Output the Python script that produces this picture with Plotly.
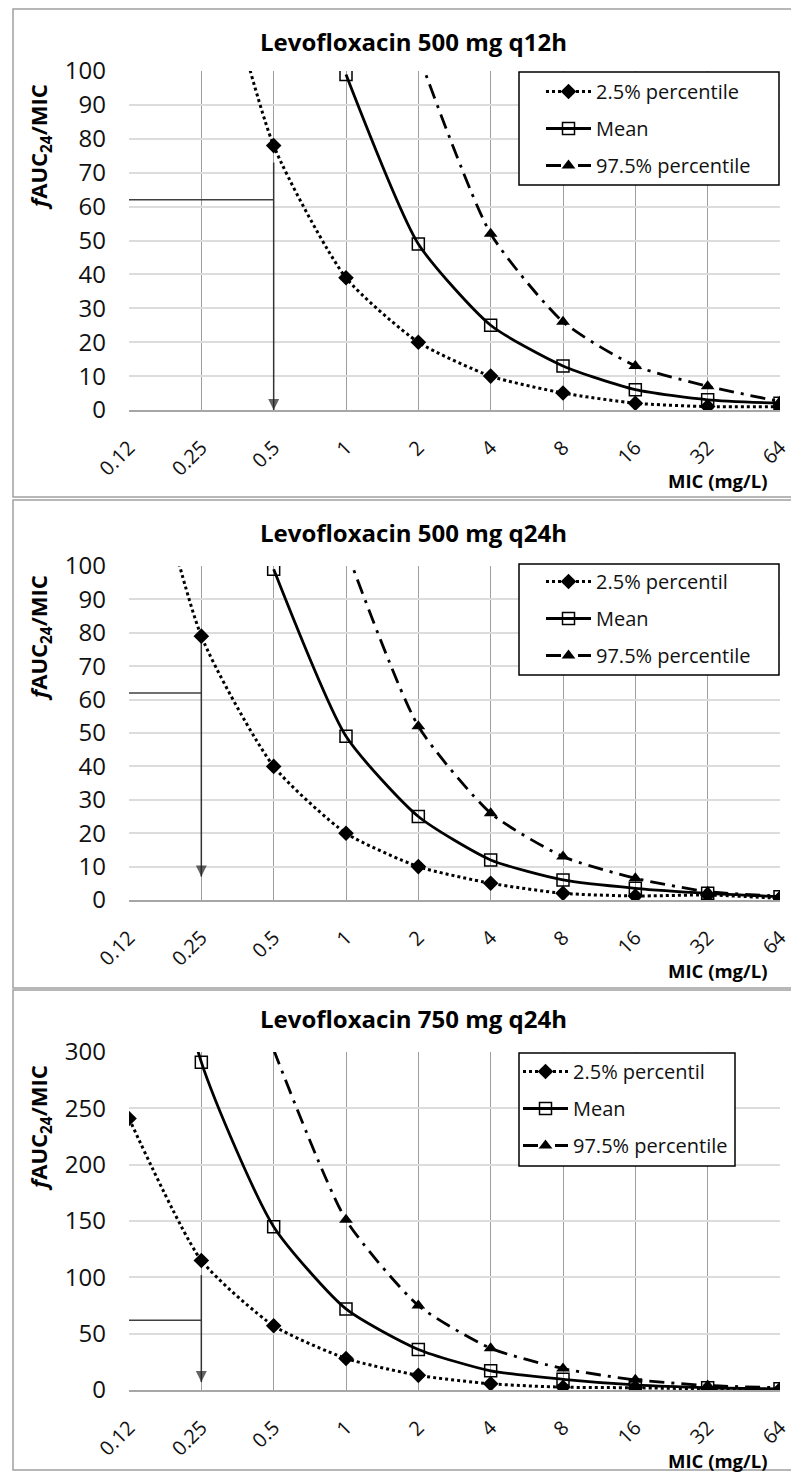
import plotly.graph_objects as go

# MIC categories on the x axis
MIC = ["0.12", "0.25", "0.5", "1", "2", "4", "8", "16", "32", "64"]

# Levofloxacin 500 mg q12h
q12_low = [None, 155, 78, 39, 20, 10, 5, 2, 1, 1]
q12_mean = [None, None, None, 99, 49, 25, 13, 6, 3, 2]
q12_high = [None, None, None, None, 105, 52, 26, 13, 7, 2.5]

# Levofloxacin 500 mg q24h
q24_low = [160, 79, 40, 20, 10, 5, 2, 1.2, 1.5, 0.5]
q24_mean = [None, None, 99, 49, 25, 12, 6, 3.5, 2, 1]
q24_high = [None, None, None, 105, 52, 26, 13, 6.5, 2.5, 1.2]

# Levofloxacin 750 mg q24h
h750_low = [241, 115, 57, 28, 13, 5.5, 2.5, 2, 1, 0.5]
h750_mean = [580, 291, 145, 72, 36, 17, 9.5, 4.5, 2, 1]
h750_high = [None, None, 302, 151, 75, 37, 19, 9, 4, 2]

TITLES = ["Levofloxacin 500 mg q12h", "Levofloxacin 500 mg q24h", "Levofloxacin 750 mg q24h"]
LEGEND_NAMES = [
    ["2.5% percentile", "Mean", "97.5% percentile"],
    ["2.5% percentil", "Mean", "97.5% percentile"],
    ["2.5% percentil", "Mean", "97.5% percentile"],
]
Y_MAX = [100, 100, 300]
Y_DTICK = [10, 10, 50]

TARGET = 62
TARGET_MIC = ["0.5", "0.25", "0.25"]
ARROW_TOP = [73, 79, 102]
ARROW_TIP = [0, 7, 7]

SERIES = [
    (q12_low, q12_mean, q12_high),
    (q24_low, q24_mean, q24_high),
    (h750_low, h750_mean, h750_high),
]

# the page body has an 8px margin, so the figure is a bit smaller than the window
PAGE_MARGIN = 8
W, H = 791, 1464
FONT = "Open Sans"

# page-pixel layout of each panel: (frame top, frame bottom, plot top, plot bottom, title y, ytitle y)
PANELS = [
    (9, 497, 71, 410, 42, 147),
    (500, 988, 566, 900, 532, 638),
    (990, 1470, 1052, 1390, 1018, 1128),
]
LEGEND_BOX = [(519, 779, 72, 185), (519, 779, 564, 675), (519, 735, 1053, 1166)]
LEGEND_TEXT_X = [596, 596, 573]
LEGEND_FIRST_Y = [92, 582, 1072]
PLOT_X = (129, 780)


def px_x(v):
    return (v - PAGE_MARGIN) / W


def px_y(v):
    return 1 - (v - PAGE_MARGIN) / H


fig = go.Figure()
shapes = []
annotations = []

styles = [
    dict(line=dict(color="black", width=3, dash="dot"),
         marker=dict(symbol="diamond", size=12, color="black")),
    dict(line=dict(color="black", width=2.8),
         marker=dict(symbol="square-open", size=12, color="black", line=dict(width=1.5))),
    dict(line=dict(color="black", width=2.8, dash="15px,7px,3px,7px"),
         marker=dict(symbol="triangle-up", size=12, color="black")),
]

for i, (series, panel) in enumerate(zip(SERIES, PANELS)):
    n = "" if i == 0 else str(i + 1)
    ftop, fbot, ptop, pbot, ty, yty = panel
    legend_id = "legend" + n

    # target line across to the MIC, then an arrow down from it
    fig.add_trace(go.Scatter(
        x=[MIC[0], TARGET_MIC[i]], y=[TARGET, TARGET], mode="lines",
        line=dict(color="#404040", width=1.5), xaxis="x" + n, yaxis="y" + n,
        showlegend=False, hoverinfo="skip",
    ))
    fig.add_trace(go.Scatter(
        x=[TARGET_MIC[i], TARGET_MIC[i]], y=[ARROW_TOP[i], ARROW_TIP[i]],
        mode="lines+markers", line=dict(color="#333", width=1.5),
        marker=dict(symbol=["circle", "arrow-down"], size=[0, 11], color="#222",
                    line=dict(width=0)),
        xaxis="x" + n, yaxis="y" + n, showlegend=False, hoverinfo="skip",
        cliponaxis=False,
    ))

    for j, (vals, st) in enumerate(zip(series, styles)):
        fig.add_trace(go.Scatter(
            x=MIC, y=vals, mode="lines+markers", name=LEGEND_NAMES[i][j],
            line=dict(shape="spline", smoothing=0.6, **st["line"]),
            marker=st["marker"], xaxis="x" + n, yaxis="y" + n,
            legend=legend_id, legendgroup=f"g{i}{j}", cliponaxis=True,
        ))

    fig.layout["xaxis" + n] = dict(
        type="category", categoryorder="array", categoryarray=MIC,
        range=[0, 9], domain=[px_x(PLOT_X[0]), px_x(PLOT_X[1])],
        anchor="y" + n, showgrid=True, gridcolor="#9e9e9e", gridwidth=1.2,
        showline=True, linecolor="#a6a6a6", linewidth=2, tickangle=-45,
        ticks="", ticklabelstandoff=16, automargin=False,
        tickfont=dict(family=FONT, size=20, color="#111"), zeroline=False,
    )
    fig.layout["yaxis" + n] = dict(
        range=[0, Y_MAX[i]], dtick=Y_DTICK[i], domain=[px_y(pbot), px_y(ptop)],
        anchor="x" + n, showgrid=True, gridcolor="#dcdcdc", gridwidth=1.5,
        zeroline=False, showline=False, ticks="", ticklabelstandoff=22,
        automargin=False, tickfont=dict(family=FONT, size=24, color="#111"),
    )

    lx0, lx1, ly0, ly1 = LEGEND_BOX[i]
    fig.layout[legend_id] = dict(
        x=px_x(LEGEND_TEXT_X[i] - 55), y=px_y(LEGEND_FIRST_Y[i] - 20),
        xanchor="left", yanchor="top",
        bgcolor="rgba(0,0,0,0)", borderwidth=0, itemwidth=45, tracegroupgap=8,
        font=dict(family=FONT, size=20, color="#111"),
    )
    shapes.append(dict(type="rect", xref="paper", yref="paper",
                       x0=px_x(lx0), x1=px_x(lx1), y0=px_y(ly1), y1=px_y(ly0),
                       line=dict(color="black", width=1.5), fillcolor="white", layer="above"))

    # panel frame
    shapes.append(dict(type="rect", xref="paper", yref="paper",
                       x0=px_x(13), x1=px_x(797), y0=px_y(fbot), y1=px_y(ftop),
                       line=dict(color="#a0a0a0", width=1.5), layer="below"))

    annotations.append(dict(x=px_x(413), y=px_y(ty), xref="paper", yref="paper",
                            xanchor="center", yanchor="middle",
                            text="<b>" + TITLES[i] + "</b>", showarrow=False,
                            font=dict(family=FONT, size=24, color="black")))
    annotations.append(dict(x=px_x(40), y=px_y(yty), xref="paper", yref="paper",
                            xanchor="center", yanchor="middle",
                            text="<b><i>f</i>AUC<sub>24</sub>/MIC</b>", textangle=-90,
                            showarrow=False, font=dict(family=FONT, size=22, color="black")))
    annotations.append(dict(x=px_x(769), y=px_y(pbot + 70), xref="paper", yref="paper",
                            xanchor="right", yanchor="middle",
                            text="<b>MIC (mg/L)</b>", showarrow=False,
                            font=dict(family=FONT, size=18.5, color="black")))

fig.update_layout(
    width=W, height=H, margin=dict(l=0, r=0, t=0, b=0),
    paper_bgcolor="white", plot_bgcolor="white",
    shapes=shapes, annotations=annotations, showlegend=True,
)

fig.write_html("out.html")
